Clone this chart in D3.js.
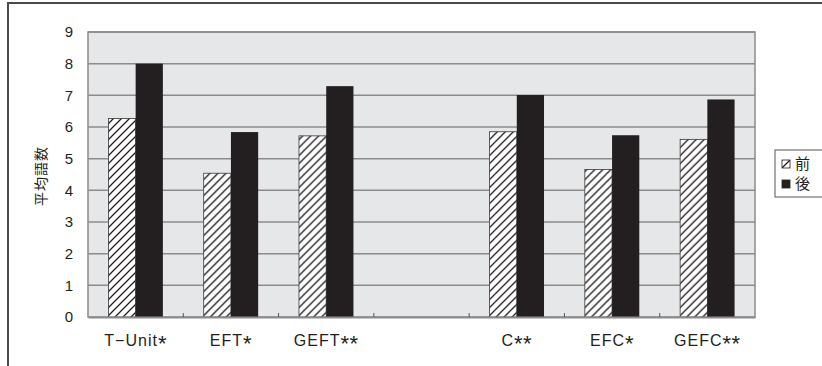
<!DOCTYPE html>
<html>
<head>
<meta charset="utf-8">
<script src="https://cdn.jsdelivr.net/npm/d3@7"></script>
<style>
  html, body { margin: 0; padding: 0; background: #ffffff; }
  svg { display: block; }
  text { font-family: "Noto Sans CJK JP", "Liberation Sans", sans-serif; fill: #231f20; }
</style>
</head>
<body>
<svg id="chart" width="822" height="366"></svg>
<script>
// Categories (the empty slot separates the T and C groups)
const categories = ["T-Unit*", "EFT*", "GEFT**", "", "C**", "EFC*", "GEFC**"];
// Mean word counts before and after
const preValues  = [6.27, 4.54, 5.72, null, 5.85, 4.66, 5.61];
const postValues = [8.00, 5.84, 7.29, null, 7.01, 5.74, 6.87];
const seriesNames = ["前", "後"];
const yTicks = [0, 1, 2, 3, 4, 5, 6, 7, 8, 9];
const yLabel = "平均語数";

const svg = d3.select("#chart");
const plot = { left: 88, right: 755, top: 32, bottom: 317 };
const latinFont = "'Liberation Sans', Arial, sans-serif";

// Hatch fill for the "before" series
const defs = svg.append("defs");
const pat = defs.append("pattern")
  .attr("id", "hatch")
  .attr("patternUnits", "userSpaceOnUse")
  .attr("width", 8).attr("height", 8);
pat.append("rect").attr("width", 8).attr("height", 8).attr("fill", "#ffffff");
pat.append("path")
  .attr("d", "M-2,2 L2,-2 M0,8 L8,0 M6,10 L10,6")
  .attr("stroke", "#231f20").attr("stroke-width", 1.3);

// Outer chart frame (top and left edges visible)
svg.append("path")
  .attr("d", "M8,366 L8,3 L822,3")
  .attr("fill", "none").attr("stroke", "#4a4a4a").attr("stroke-width", 2);

const x = d3.scaleBand().domain(categories).range([plot.left, plot.right]).padding(0);
const xSub = d3.scaleBand().domain(seriesNames).range([0, x.bandwidth()])
  .paddingInner(0).paddingOuter(0.75);
const y = d3.scaleLinear().domain([0, 9]).range([plot.bottom, plot.top]);

// Plot background
svg.append("rect")
  .attr("x", plot.left).attr("y", plot.top)
  .attr("width", plot.right - plot.left).attr("height", plot.bottom - plot.top)
  .attr("fill", "#e6e7e9");

// Horizontal gridlines
svg.append("g")
  .selectAll("line")
  .data(yTicks.filter(d => d > 0))
  .join("line")
  .attr("x1", plot.left).attr("x2", plot.right)
  .attr("y1", d => y(d)).attr("y2", d => y(d))
  .attr("stroke", "#8c8c8c").attr("stroke-width", 1.5);

// Plot border
svg.append("rect")
  .attr("x", plot.left).attr("y", plot.top)
  .attr("width", plot.right - plot.left).attr("height", plot.bottom - plot.top)
  .attr("fill", "none").attr("stroke", "#8c8c8c").attr("stroke-width", 1.5);

// Bars
const rows = categories.map((c, i) => ({ cat: c, vals: [preValues[i], postValues[i]] }));
const groups = svg.append("g").selectAll("g")
  .data(rows).join("g")
  .attr("transform", d => `translate(${x(d.cat)},0)`);

groups.selectAll("rect")
  .data(d => d.vals.map((v, j) => ({ name: seriesNames[j], v })).filter(e => e.v != null))
  .join("rect")
  .attr("x", e => xSub(e.name))
  .attr("width", xSub.bandwidth())
  .attr("y", e => y(e.v))
  .attr("height", e => y(0) - y(e.v))
  .attr("fill", e => e.name === "前" ? "url(#hatch)" : "#231f20")
  .attr("stroke", e => e.name === "前" ? "#3a3a3a" : "none")
  .attr("stroke-width", 0.8);

// Bottom axis with inward ticks
const xAxis = d3.axisBottom(x).tickSizeInner(-4).tickSizeOuter(0).tickFormat("");
const gx = svg.append("g").attr("transform", `translate(0,${plot.bottom})`).call(xAxis);
gx.select(".domain").attr("stroke", "#8c8c8c").attr("stroke-width", 2);
gx.selectAll(".tick line")
  .attr("transform", `translate(${-x.bandwidth() / 2},0)`)
  .attr("stroke", "#555").attr("stroke-width", 1);
gx.selectAll(".tick").filter((d, i) => i === 0).select("line").remove();

// Category labels: name followed by enlarged, centred significance stars
const catLabels = svg.append("g").selectAll("text")
  .data(categories)
  .join("text")
  .attr("x", d => x(d) + x.bandwidth() / 2)
  .attr("y", 346)
  .attr("text-anchor", "middle")
  .style("font-family", latinFont)
  .style("font-size", "16px")
  .style("letter-spacing", "1px");
catLabels.append("tspan")
  .text(d => d.replace(/\*+$/, "").replace("-", "−"));
catLabels.append("tspan")
  .attr("dy", 5)
  .style("font-size", "22px")
  .style("letter-spacing", "0.5px")
  .text(d => (d.match(/\*+$/) || [""])[0]);

// Y tick labels
const yAxis = d3.axisLeft(y).tickValues(yTicks).tickSize(0).tickPadding(15);
const gy = svg.append("g").attr("transform", `translate(${plot.left},0)`).call(yAxis);
gy.select(".domain").remove();
gy.selectAll("text")
  .style("font-family", latinFont)
  .style("font-size", "15px")
  .attr("fill", "#231f20");

// Y axis title
svg.append("text")
  .attr("transform", "translate(46,176) rotate(-90)")
  .attr("text-anchor", "middle")
  .style("font-size", "14px")
  .style("letter-spacing", "1px")
  .text(yLabel);

// Legend
const lg = svg.append("g");
lg.append("rect")
  .attr("x", 775).attr("y", 150).attr("width", 60).attr("height", 47)
  .attr("fill", "#ffffff").attr("stroke", "#555").attr("stroke-width", 1);
const items = lg.selectAll("g").data(seriesNames).join("g")
  .attr("transform", (d, i) => `translate(782,${160 + i * 20})`);
items.append("rect")
  .attr("width", 8).attr("height", 8)
  .attr("fill", d => d === "前" ? "url(#hatch)" : "#231f20")
  .attr("stroke", "#231f20").attr("stroke-width", 0.8);
items.append("text")
  .attr("x", 13).attr("y", 4).attr("dy", "0.36em")
  .style("font-size", "15px")
  .text(d => d);
</script>
</body>
</html>
